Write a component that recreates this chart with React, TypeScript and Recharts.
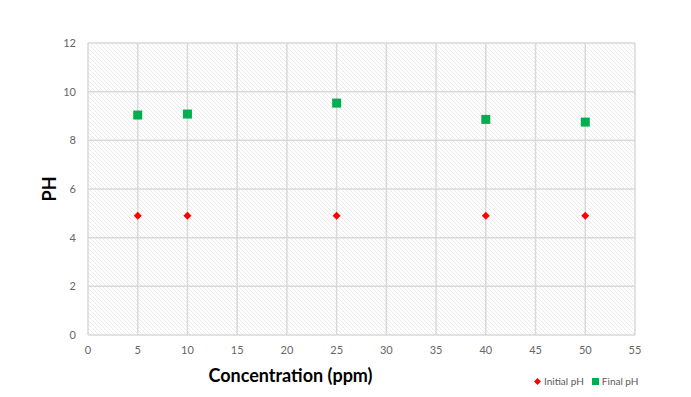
import { ScatterChart, Scatter, XAxis, YAxis, CartesianGrid } from "recharts";

const concentrations = [5, 10, 25, 40, 50];
const initialPh = [4.9, 4.9, 4.9, 4.9, 4.9];
const finalPh = [9.04, 9.08, 9.53, 8.86, 8.75];
const xTicks = [0, 5, 10, 15, 20, 25, 30, 35, 40, 45, 50, 55];
const yTicks = [0, 2, 4, 6, 8, 10, 12];

const initialData = concentrations.map((c, i) => ({ x: c, y: initialPh[i] }));
const finalData = concentrations.map((c, i) => ({ x: c, y: finalPh[i] }));

const FONT = "Lato, 'Liberation Sans', sans-serif";

const Diamond = (props: any) => {
  const { cx, cy } = props;
  const r = 4;
  return <path d={`M${cx},${cy - r}L${cx + r},${cy}L${cx},${cy + r}L${cx - r},${cy}Z`} fill="#ff0000" />;
};

const Square = (props: any) => {
  const { cx, cy } = props;
  return <rect x={cx - 4.5} y={cy - 4.5} width={9} height={9} fill="#00b050" />;
};

// legend drawn outside the chart so it doesn't shrink the plot
const ChartLegend = () => (
  <div
    style={{
      position: "absolute",
      left: 534,
      top: 375,
      display: "flex",
      alignItems: "center",
      fontSize: 10,
      color: "#595959",
      fontFamily: FONT,
    }}
  >
    <svg width={7} height={7} style={{ marginRight: 3 }}>
      <path d="M3.5,0L7,3.5L3.5,7L0,3.5Z" fill="#ff0000" />
    </svg>
    <span style={{ marginRight: 8 }}>Initial pH</span>
    <svg width={7} height={7} style={{ marginRight: 3 }}>
      <rect width={7} height={7} fill="#00b050" />
    </svg>
    <span>Final pH</span>
  </div>
);

export default function App() {
  return (
    <div style={{ position: "absolute", left: 0, top: 0, width: 691, height: 397, background: "#fff" }}>
      <ScatterChart width={691} height={397} margin={{ top: 43, right: 56, left: 0, bottom: 12 }}>
        <defs>
          <pattern id="hatch" width={4} height={4} patternUnits="userSpaceOnUse">
            <rect width={4} height={4} fill="#ffffff" />
            <path d="M-1,-1L5,5M3,-1L5,1M-1,3L1,5" stroke="#ebebeb" strokeWidth={1} />
          </pattern>
        </defs>
        <CartesianGrid stroke="#d9d9d9" strokeWidth={1.5} fill="url(#hatch)" fillOpacity={1} />
        <XAxis
          type="number"
          dataKey="x"
          domain={[0, 55]}
          ticks={xTicks}
          height={50}
          axisLine={false}
          tickLine={false}
          tickMargin={5}
          tick={{ fill: "#666", fontSize: 11, fontFamily: FONT }}
          label={{
            value: "Concentration (ppm)",
            position: "insideBottom",
            offset: 3,
            dx: -71,
            style: { fill: "#000", fontSize: 18, fontWeight: 700, fontFamily: FONT },
          }}
        />
        <YAxis
          type="number"
          dataKey="y"
          domain={[0, 12]}
          ticks={yTicks}
          width={88}
          axisLine={false}
          tickLine={false}
          tickMargin={6}
          tick={{ fill: "#666", fontSize: 11, fontFamily: FONT }}
          label={{
            value: "PH",
            angle: -90,
            position: "center",
            dx: 6,
            style: { fill: "#000", fontSize: 18, fontWeight: 700, fontFamily: FONT },
          }}
        />
        <Scatter name="Initial pH" data={initialData} shape={<Diamond />} isAnimationActive={false} />
        <Scatter name="Final pH" data={finalData} shape={<Square />} isAnimationActive={false} />
      </ScatterChart>
      <ChartLegend />
    </div>
  );
}
